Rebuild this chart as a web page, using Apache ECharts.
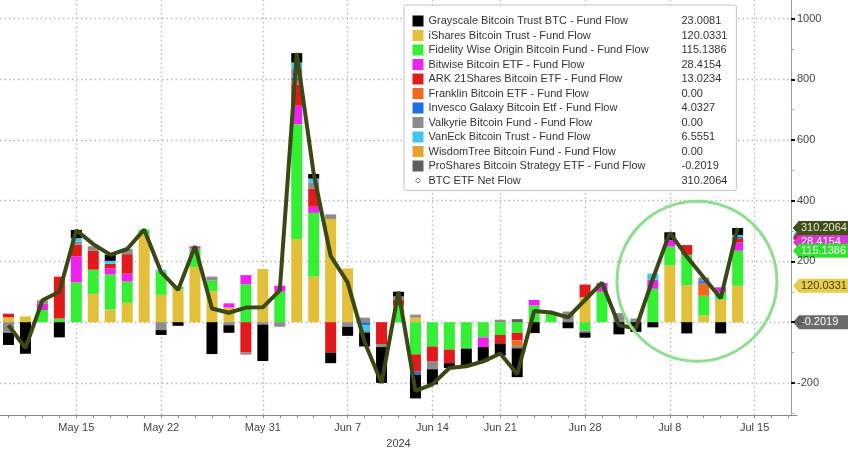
<!DOCTYPE html>
<html><head><meta charset="utf-8">
<script src="https://cdn.jsdelivr.net/npm/echarts@6/dist/echarts.min.js"></script>
<style>html,body{margin:0;padding:0;background:#fff}#c{width:848px;height:454px}</style>
</head><body><div id="c"></div>
<script>
// ---- data (US$ m, daily fund flows) ----
const dates = ['May 9','May 10','May 13','May 14','May 15','May 16','May 17','May 20','May 21','May 22','May 23','May 24','May 28','May 29','May 30','May 31','Jun 3','Jun 4','Jun 5','Jun 6','Jun 7','Jun 10','Jun 11','Jun 12','Jun 13','Jun 14','Jun 17','Jun 18','Jun 20','Jun 21','Jun 24','Jun 25','Jun 26','Jun 27','Jun 28','Jul 1','Jul 2','Jul 3','Jul 5','Jul 8','Jul 9','Jul 10','Jul 11','Jul 12'];
const axisExtraDays = ['Jul 15','Jul 16','Jul 17'];
const xTickLabels = ['May 15','May 22','May 31','Jun 7','Jun 14','Jun 21','Jun 28','Jul 8','Jul 15'];
const yTickLabels = [-200, 0, 200, 400, 600, 800, 1000];
const yMinorTicks = [-300, -100, 100, 300, 500, 700, 900];

const iShares    = [16,19,0,0,0,93,42,64,290,90,107,182,102,48,0,175,0,274,150,340,177,0,0,0,15,0,0,0,0,0,0,0,0,0,82,0,0,0,0,187,122,22,74,120.0331];
const fidelity   = [0,0,40,12,131,80,115,70,15,77,10,60,35,0,125,0,100,378,210,0,0,0,0,55,-106,-80,-90,-87,-50,-42,-35,55,32,0,-28,100,0,0,110,62,100,65,25,115.1386];
const bitwise    = [0,0,22,0,86,0,20,26,0,0,0,8,0,14,30,0,20,61,20,0,0,0,0,0,0,0,0,0,-32,0,0,18,0,0,0,29,0,0,30,22,0,0,16,28.4154];
const ark        = [12,0,0,138,38,62,15,64,0,0,0,0,0,0,-100,0,0,70,60,-100,0,0,-72,20,-57,-50,-45,0,0,-28,-25,0,0,0,42,0,0,0,0,0,32,0,0,13.0234];
const franklin   = [0,0,0,0,0,0,0,0,0,0,0,0,0,0,0,0,0,12,0,0,0,0,0,0,0,0,0,0,0,0,-18,0,0,0,0,0,0,0,0,0,0,40,0,0];
const invesco    = [0,0,0,0,0,0,0,0,0,0,0,0,0,0,0,0,0,10,0,0,0,-10,0,0,-10,0,0,0,0,0,0,0,0,0,0,0,0,0,0,0,0,8,0,4.0327];
const valkyrie   = [-35,0,10,0,10,15,0,17,0,-26,0,0,13,-10,-7,-8,-15,30,20,15,-15,15,-10,10,10,-25,0,0,0,8,-8,0,0,35,-6,0,30,12,0,0,0,12,0,0];
const vaneck     = [0,0,0,0,12,0,10,0,0,5,0,0,0,0,0,0,0,20,13,0,0,-20,0,0,0,0,0,0,0,0,0,0,0,0,0,0,0,0,20,0,0,0,0,6.5551];
const wisdomtree = [0,0,0,0,0,0,0,0,0,0,0,0,0,0,0,0,0,0,0,0,0,0,0,0,0,0,0,0,0,0,0,0,0,0,0,0,0,0,0,0,0,0,0,0];
const proshares  = [0,0,0,0,0,0,0,0,0,0,0,0,0,0,0,0,0,0,0,0,0,-5,0,0,0,0,0,0,0,0,10,0,0,0,0,0,0,0,0,0,0,0,0,-0.2019];
const grayscale  = [-40,-104,0,-50,27,0,20,0,0,-16,-12,0,-105,-25,0,-120,0,31,15,-35,-30,-45,-118,15,-78,-50,-16,-58,-47,-40,-95,-36,0,-20,-17,0,-40,-32,-17,25,-37,0,-37,23.0081];
const netFlow    = [-10,-85,72,100,303,257,222,241,305,165,106,250,45,31,48,49,105,886,488,218,131,-65,-200,101,-226,-205,-151,-145,-129,-103,-171,37,32,16,73,130,-10,-20,143,295,216,147,79,310.2064];

// ---- series definitions (stacking order bottom->top) ----
const N = {
  gbtc:'Grayscale Bitcoin Trust BTC - Fund Flow', ibit:'iShares Bitcoin Trust - Fund Flow',
  fbtc:'Fidelity Wise Origin Bitcoin Fund - Fund Flow', bitb:'Bitwise Bitcoin ETF - Fund Flow',
  arkb:'ARK 21Shares Bitcoin ETF - Fund Flow', ezbc:'Franklin Bitcoin ETF - Fund Flow',
  btco:'Invesco Galaxy Bitcoin Etf - Fund Flow', brrr:'Valkyrie Bitcoin Fund - Fund Flow',
  hodl:'VanEck Bitcoin Trust - Fund Flow', btcw:'WisdomTree Bitcoin Fund - Fund Flow',
  bito:'ProShares Bitcoin Strategy ETF - Fund Flow', net:'BTC ETF Net Flow'
};
const stackDefs = [
  {name:N.ibit, color:'#e2c03a', data:iShares, tag:'#e6cd4e', tagText:'#4a3d00'},
  {name:N.fbtc, color:'#35ef35', data:fidelity, tag:'#2fe22f', tagText:'#ffffff'},
  {name:N.bitb, color:'#ee22ee', data:bitwise, tag:'#d23ad2', tagText:'#ffffff'},
  {name:N.arkb, color:'#e31a1c', data:ark, tag:'#d81c1c', tagText:'#ffffff'},
  {name:N.ezbc, color:'#ee6a22', data:franklin},
  {name:N.btco, color:'#1f6fe0', data:invesco, tag:'#1f6fe0', tagText:'#ffffff'},
  {name:N.brrr, color:'#8c8c8c', data:valkyrie},
  {name:N.hodl, color:'#3ec6f0', data:vaneck, tag:'#3ec6f0', tagText:'#ffffff'},
  {name:N.btcw, color:'#e8a030', data:wisdomtree},
  {name:N.bito, color:'#5e5e5e', data:proshares, tag:'#6b6b6b', tagText:'#ffffff'},
  {name:N.gbtc, color:'#000000', data:grayscale, tag:'#111111', tagText:'#ffffff'}
];
const legendOrder = [N.gbtc,N.ibit,N.fbtc,N.bitb,N.arkb,N.ezbc,N.btco,N.brrr,N.hodl,N.btcw,N.bito,N.net];
const last = dates.length - 1;
const lastValue = {};
stackDefs.forEach(s => lastValue[s.name] = s.data[last]);
lastValue[N.net] = netFlow[last];
const fmt = v => v === 0 ? '0.00' : v.toFixed(4);

const axisDays = dates.concat(axisExtraDays);
const FONT = 'Liberation Sans';

const series = [{
  type:'line', data:[], silent:true, z:0,
  markLine:{silent:true, z:0, symbol:['none','none'], label:{show:false}, animation:false,
    emphasis:{disabled:true},
    lineStyle:{type:[1.5,3], color:'#b8b8b8', width:1.3},
    data: yTickLabels.map(v => ({yAxis:v})).concat(xTickLabels.map(d => ({xAxis:d})))}
}];
stackDefs.forEach(s => series.push({
  name:s.name, type:'bar', stack:'flow', barWidth:11, z:2,
  itemStyle:{color:s.color}, emphasis:{disabled:true},
  data:s.data
}));
series.push({
  name:N.net, type:'line', z:3, symbol:'none', clip:true,
  lineStyle:{color:'#3a4816', width:4}, itemStyle:{color:'#3a4816'},
  emphasis:{disabled:true},
  data:netFlow
});

const yBase = {type:'value', position:'right', offset:-6, min:-306, max:1061, splitLine:{show:false}};
const chart = echarts.init(document.getElementById('c'), null, {renderer:'canvas'});
chart.setOption({
  animation:false,
  backgroundColor:'#ffffff',
  grid:{left:0, right:51, top:0, bottom:29},
  xAxis:{type:'category', data:axisDays, boundaryGap:true,
    axisLine:{show:true, onZero:false, lineStyle:{color:'#8a8a8a', width:1}},
    axisTick:{show:true, alignWithLabel:true, interval:0, length:3, lineStyle:{color:'#8a8a8a'}},
    axisLabel:{interval:(i, v) => xTickLabels.indexOf(v) >= 0, color:'#444', fontSize:11, fontFamily:FONT, margin:7},
    splitLine:{show:false},
    name:'2024', nameLocation:'middle', nameGap:19,
    nameTextStyle:{color:'#444', fontSize:11, fontFamily:FONT}},
  yAxis:[
    Object.assign({}, yBase, {
      axisLine:{show:true, onZero:false, lineStyle:{color:'#9a9a9a', width:1}},
      axisTick:{show:true, customValues:yTickLabels, length:4, lineStyle:{color:'#111', width:2}},
      axisLabel:{customValues:yTickLabels, formatter:v => String(v), color:'#444', fontSize:11, fontFamily:FONT, margin:6}}),
    Object.assign({}, yBase, {
      axisLine:{show:false, onZero:false},
      axisTick:{show:true, customValues:yMinorTicks, length:3, lineStyle:{color:'#aaa', width:1}},
      axisLabel:{show:false}})
  ],
  legend:{orient:'vertical', left:404, top:5, selectedMode:false, z:10,
    backgroundColor:'#ffffff', borderColor:'#c4c4c4', borderWidth:1, borderRadius:2,
    padding:[10,9,4,8], itemWidth:11, itemHeight:11, itemGap:2.5,
    data:legendOrder.map(n => n === N.net
      ? {name:n, icon:'path://M0,0L0.01,0.01M10.99,10.99L11,11M5.5,3L8,5.5L5.5,8L3,5.5Z',
         itemStyle:{color:'#ffffff', borderColor:'#777', borderWidth:1}}
      : {name:n, icon:'rect'}),
    formatter:n => '{n|' + n + '}{v|' + fmt(lastValue[n]) + '}',
    textStyle:{color:'#333', fontSize:11, fontFamily:FONT, lineHeight:12,
      rich:{n:{width:253, fontSize:11, fontFamily:FONT, color:'#333'},
            v:{fontSize:11, fontFamily:FONT, color:'#333'}}}},
  series:series
});

// ---- right-hand value tags and highlight circle, placed through the axes ----
const grid = chart.getModel().getComponent('grid').coordinateSystem.getRect();
const axisX = grid.x + grid.width - 6;
let pos = 0, neg = 0;
const tops = {};
stackDefs.forEach(s => {
  const v = s.data[last];
  if (v >= 0) { pos += v; tops[s.name] = pos; } else { neg += v; tops[s.name] = neg; }
});
function tag(value, bg, fg, text) {
  const y = chart.convertToPixel({yAxisIndex:0}, value);
  return {type:'group', x:axisX + 2, y:y, children:[
    {type:'polygon', shape:{points:[[0,0],[6,-7],[70,-7],[70,7],[6,7]]}, style:{fill:bg}},
    {type:'text', x:8, y:0, style:{text:text, fill:fg, fontSize:11, fontFamily:FONT, verticalAlign:'middle', align:'left'}}
  ]};
}
const tagOrder = [N.gbtc, N.hodl, N.btco, N.arkb, N.bitb, N.fbtc, N.ibit, N.bito];
const tags = [];
tagOrder.forEach(n => {
  const s = stackDefs.find(d => d.name === n);
  if (s.data[last] !== 0) tags.push(tag(tops[n], s.tag, s.tagText, fmt(s.data[last])));
});
tags.push(tag(netFlow[last], '#3e4f1d', '#e6ebcf', fmt(netFlow[last])));
const x40 = chart.convertToPixel({xAxisIndex:0}, 'Jul 9');
const x41 = chart.convertToPixel({xAxisIndex:0}, 'Jul 10');
const cx = x40 + 0.6 * (x41 - x40);
const cy = chart.convertToPixel({yAxisIndex:0}, 135);
chart.setOption({graphic:[
  {type:'circle', shape:{cx:cx, cy:cy, r:80}, style:{fill:'none', stroke:'#8fde8f', lineWidth:3}, z:50},
  {type:'group', z:100, children:tags}
]});
</script></body></html>
